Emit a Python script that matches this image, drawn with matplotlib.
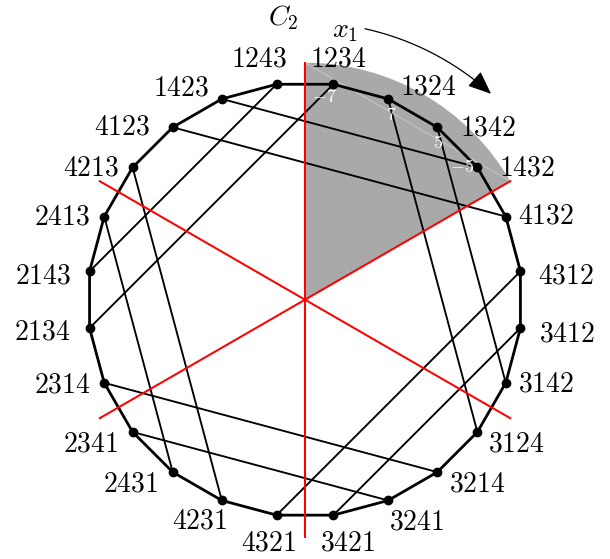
import numpy as np
import matplotlib
matplotlib.use("Agg")
import matplotlib.pyplot as plt
from matplotlib.patches import Wedge, FancyArrowPatch
from matplotlib.path import Path

plt.rcParams['mathtext.fontset'] = 'cm'
plt.rcParams['font.family'] = ['DejaVu Serif']

# ---------------- data ----------------
# vertices of the 24-gon, clockwise starting just right of the top
perms = ['1234', '1324', '1342', '1432', '4132', '4312', '3412', '3142',
         '3124', '3214', '3241', '3421', '4321', '4231', '2431', '2341',
         '2314', '2134', '2143', '2413', '4213', '4123', '1423', '1243']

# chords (non-adjacent edges)
chord_a = ['1243', '1234', '1423', '4123', '4213', '2413',
           '2314', '2341', '4321', '3421', '1324', '1342']
chord_b = ['2143', '2134', '1432', '4132', '4231', '2431',
           '3214', '3241', '4312', '3412', '3124', '3142']

# small white values in the shaded region
value_vertices = ['1234', '1324', '1342', '1432']
value_labels = ['-7', '7', '5', '-5']

# mirror lines (degrees)
mirror_angles = [90, 30, -30]
sector_range = (30, 90)

# ---------------- layout ----------------
R = 217.3           # polygon radius (px)
RL = 237.0          # mirror line half-length
RA = 277.5          # arrow arc radius
n = len(perms)
angles = np.deg2rad(82.5 - 15.0 * np.arange(n))
pos = {p: (R * np.cos(a), R * np.sin(a)) for p, a in zip(perms, angles)}

# label offsets (dx, dy) relative to each vertex
label_off = {
    '1234': (5, 25), '1324': (40.5, 12), '1342': (51, -0.5), '1432': (50, -0.4),
    '4132': (40, 0.2), '4312': (46, -4.5), '3412': (46.3, -6.1), '3142': (40, -1.6),
    '3124': (39, -11.7), '3214': (40, -11.6), '3241': (29, -22), '3421': (14, -28),
    '4321': (-8, -28), '4231': (-22, -21), '2431': (-42, -11.6), '2341': (-41.4, -11.6),
    '2314': (-42, -1.8), '2134': (-46.8, -4.4), '2143': (-46.8, -4.2), '2413': (-42, -0.2),
    '4213': (-41, -0.2), '4123': (-51, 0.3), '1423': (-41, 11), '1243': (-17, 25),
}
value_off = {'1234': (-9.4, -13), '1324': (3, -16), '1342': (1, -15.4), '1432': (-15.7, 0.7)}

fig = plt.figure(figsize=(6.10, 5.59), dpi=100)
ax = fig.add_axes([0, 0, 1, 1])
ax.set_xlim(-305, 305)
ax.set_ylim(-259.3, 299.7)
ax.axis('off')

# shaded sector
ax.add_patch(Wedge((0, 0), RL, sector_range[0], sector_range[1],
                   facecolor='#a9a9a9', edgecolor='none', zorder=0))
t0, t1 = np.deg2rad(sector_range)
ax.plot([RL * np.cos(t1), RL * np.cos(t0)], [RL * np.sin(t1), RL * np.sin(t0)],
        color='white', lw=0.5, alpha=0.45, zorder=1)

# chords
for a, b in zip(chord_a, chord_b):
    ax.plot([pos[a][0], pos[b][0]], [pos[a][1], pos[b][1]],
            color='black', lw=1.35, zorder=2, solid_capstyle='round')

# polygon
xs = [pos[p][0] for p in perms] + [pos[perms[0]][0]]
ys = [pos[p][1] for p in perms] + [pos[perms[0]][1]]
ax.plot(xs, ys, color='black', lw=2.0, zorder=3, solid_joinstyle='round')

# mirror lines
for m in mirror_angles:
    t = np.deg2rad(m)
    ax.plot([-RL * np.cos(t), RL * np.cos(t)], [-RL * np.sin(t), RL * np.sin(t)],
            color='red', lw=1.45, zorder=4)

# vertices
ax.plot([pos[p][0] for p in perms], [pos[p][1] for p in perms], 'o',
        color='black', markersize=6.0, zorder=5)

# vertex labels
for p in perms:
    dx, dy = label_off[p]
    ax.text(pos[p][0] + dx, pos[p][1] + dy, '$' + p + '$', fontsize=20,
            ha='center', va='center', zorder=6)

# white values
for p, v in zip(value_vertices, value_labels):
    dx, dy = value_off[p]
    ax.text(pos[p][0] + dx, pos[p][1] + dy, '$' + v + '$', fontsize=13,
            color='white', ha='center', va='center', zorder=6)

# curved arrow
arc = np.deg2rad(np.linspace(77.5, 47.9, 40))
verts = np.column_stack([RA * np.cos(arc), RA * np.sin(arc)])
arrow = FancyArrowPatch(path=Path(verts),
                        arrowstyle='-|>,head_length=0.72,head_width=0.3',
                        mutation_scale=20, lw=0.9, color='black',
                        shrinkA=0, shrinkB=0, zorder=6)
ax.add_patch(arrow)

ax.text(-21.7, 281.7, r'$C_2$', fontsize=20, ha='center', va='center')
ax.text(40, 268.7, r'$x_1$', fontsize=20, ha='center', va='center')

fig.savefig('out.png', dpi=100)
